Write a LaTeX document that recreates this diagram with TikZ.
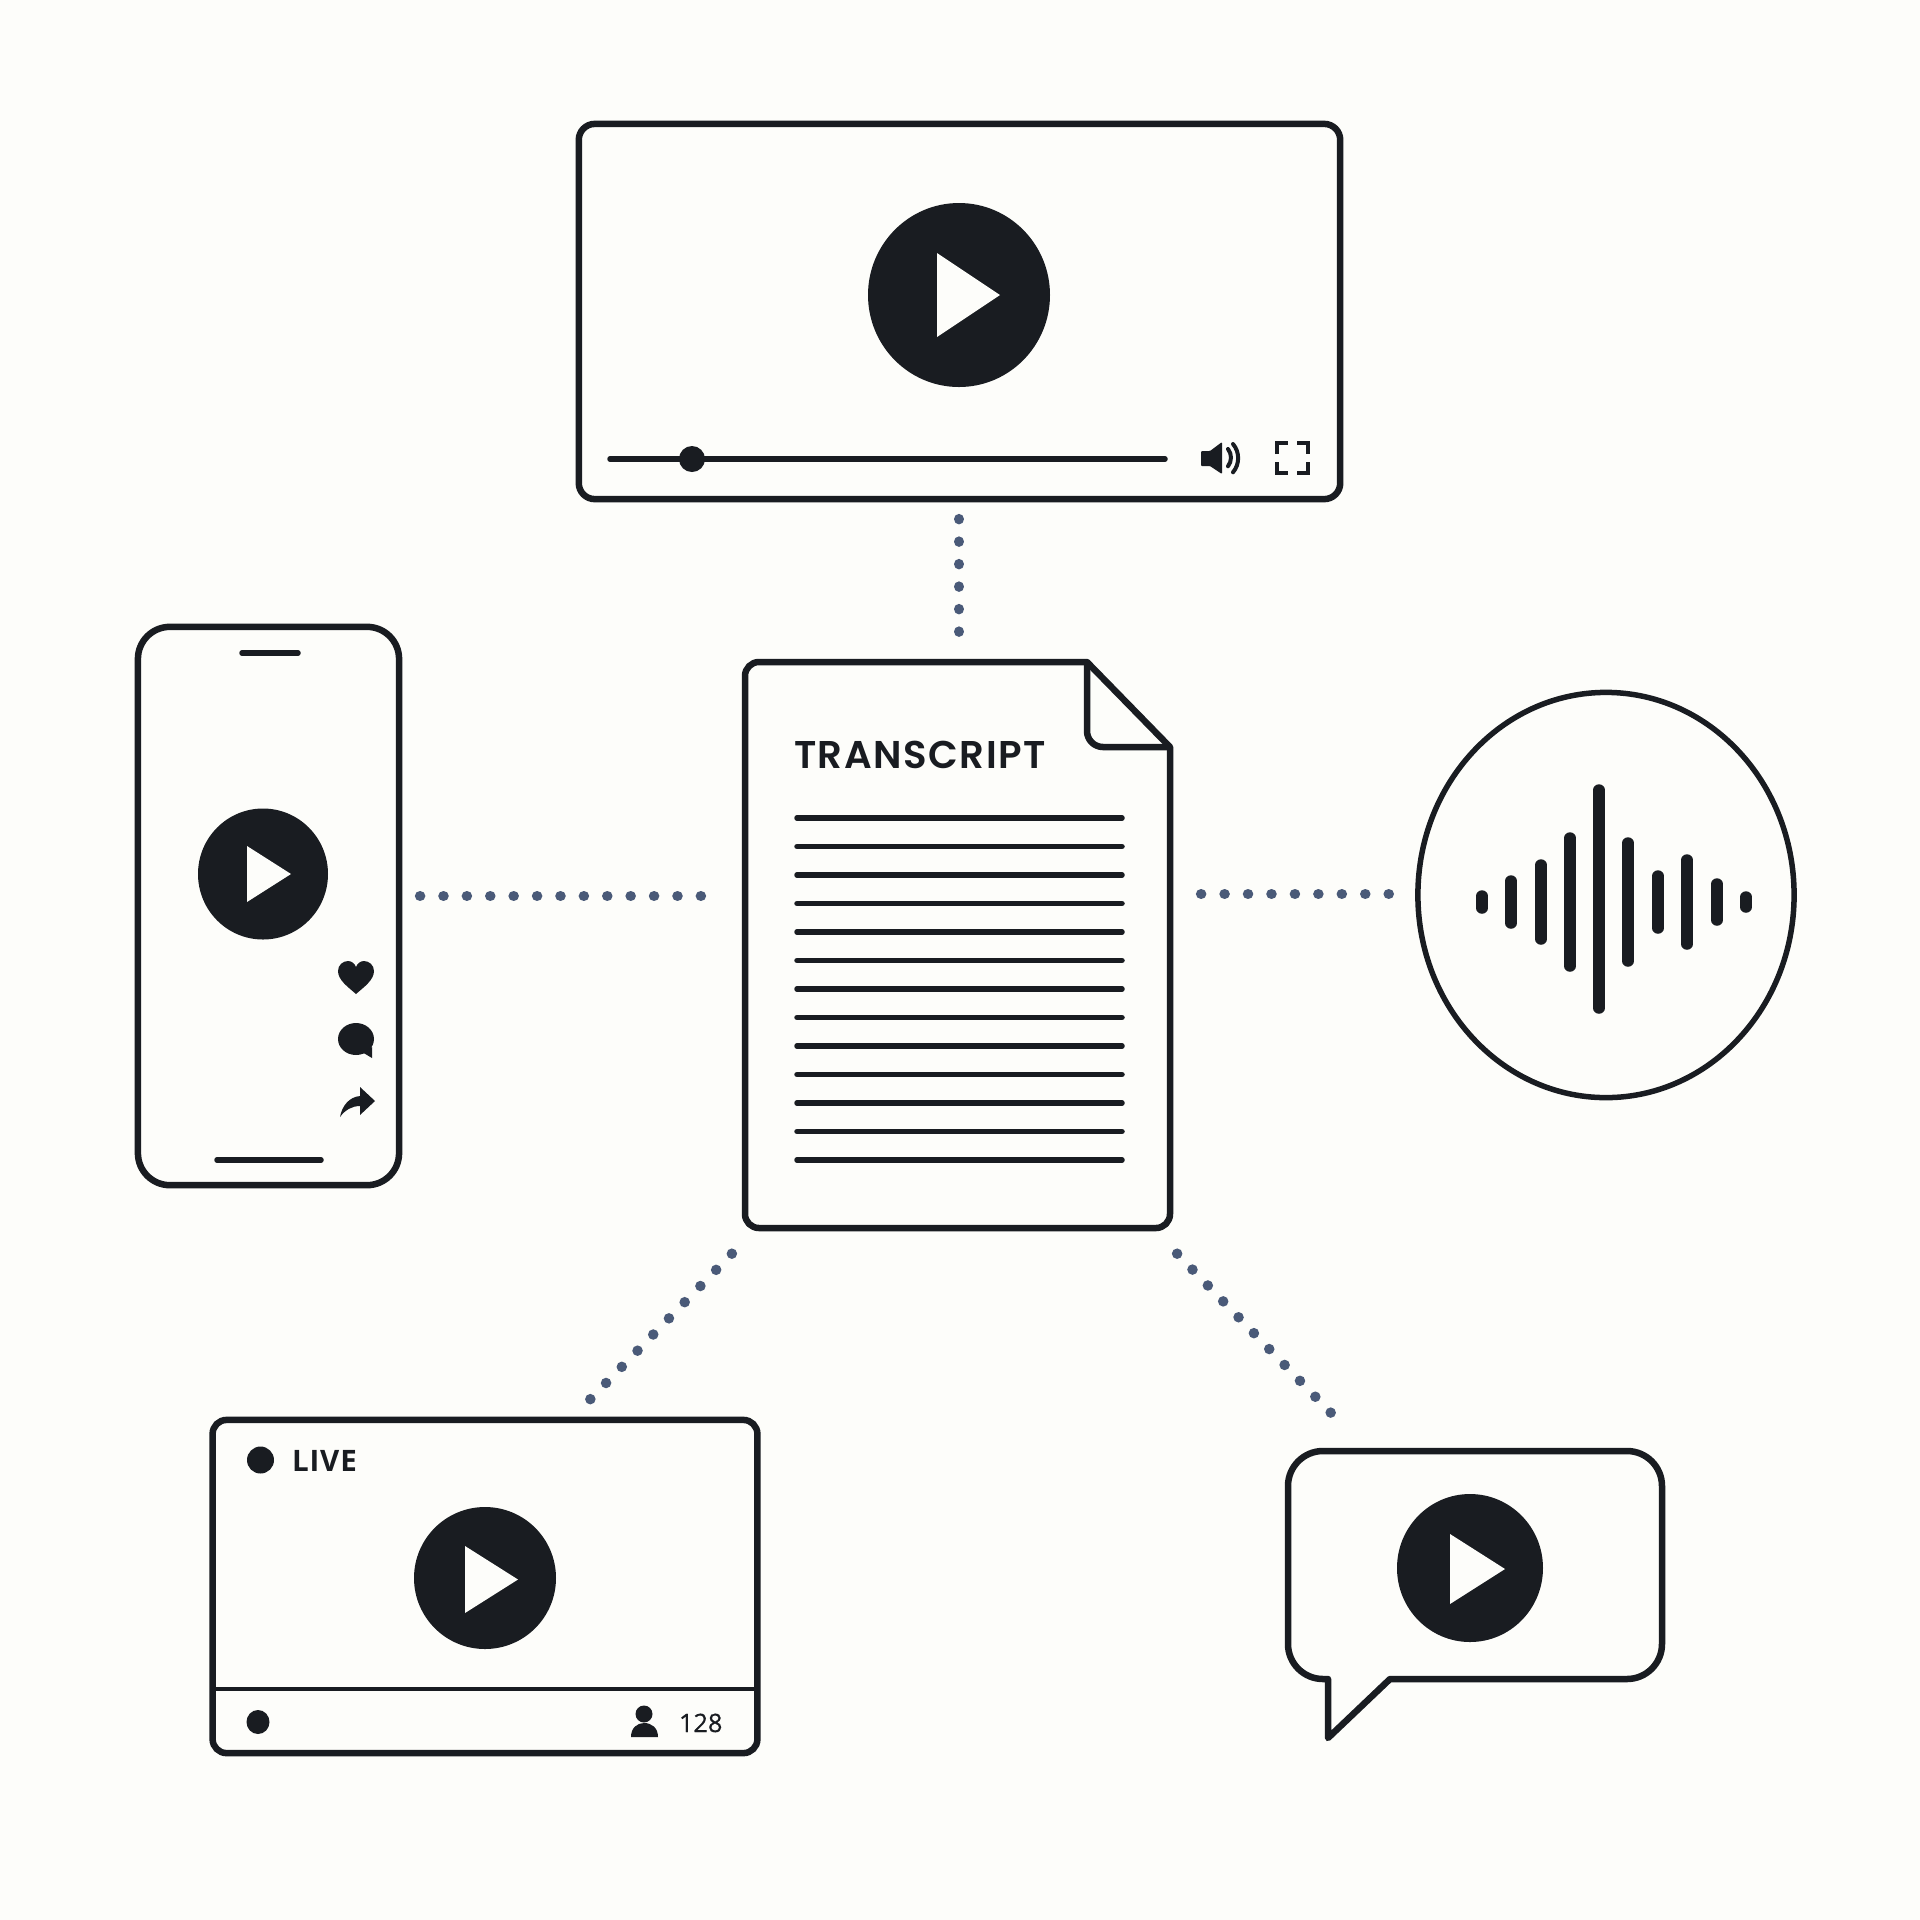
\documentclass[tikz,border=0pt]{standalone}
\usepackage{fontspec}
\usetikzlibrary{shapes.geometric,calc}
\newfontfamily\titlefont[LetterSpace=4,UprightFont=* SemiBold]{Poppins}
\newfontfamily\livefont[LetterSpace=3]{Open Sans}
\newfontfamily\countfont[FakeBold=0.5]{Open Sans}
\definecolor{ink}{HTML}{191C21}
\definecolor{paper}{HTML}{FDFDFA}
\definecolor{slate}{HTML}{4A5A78}
\newcommand{\playbtn}[8]{% cx cy rx ry triX triTop triTipX triBottom
  \fill[ink] (#1,#2) ellipse [x radius=#3, y radius=#4];
  \fill[paper] (#5,#6) -- (#7,{(#6+#8)/2}) -- (#5,#8) -- cycle;}
\tikzset{
  x=0.01cm, y=-0.01cm,
  shapeline/.style={draw=ink, line width=0.065cm, fill=none, inner sep=0pt, outer sep=0pt},
  rulethick/.style={draw=ink, line width=0.055cm, line cap=round},
  dotrow/.style={draw=slate, line width=0.105cm, line cap=round, dash pattern=on 0.01pt off #1},
  ghost/.style={inner sep=0pt, outer sep=0pt, rectangle},
  bar/.style={draw=ink, line width=0.115cm, line cap=round},
  label/.style={inner sep=0pt, outer sep=0pt, text=ink},
}
\begin{document}
\begin{tikzpicture}
\fill[paper] (0,0) rectangle (1920,1920);
\useasboundingbox (0,0) rectangle (1920,1920);

% --- player
\node[shapeline, rectangle, rounded corners=0.16cm, minimum width=7.61cm, minimum height=3.75cm] (player) at (959.5,311.5) {};
\playbtn{959}{295}{91}{92}{937}{253}{1000}{337}
\draw[rulethick] (610,459) -- (1165,459);
\fill[ink] (692,459) circle [radius=13];
\fill[ink, rounded corners=0.01cm] (1201,451) -- (1210,451) -- (1222,442) -- (1222,474) -- (1210,466) -- (1201,466) -- cycle;
\draw[ink, line width=0.04cm, line cap=round] (1228,449) arc [start angle=-38, end angle=38, radius=14];
\draw[ink, line width=0.04cm, line cap=round] (1233,444) arc [start angle=-40, end angle=40, radius=22];
\draw[ink, line width=0.04cm] (1277,454) -- (1277,443) -- (1288,443);
\draw[ink, line width=0.04cm] (1297,443) -- (1308,443) -- (1308,454);
\draw[ink, line width=0.04cm] (1277,462) -- (1277,473) -- (1288,473);
\draw[ink, line width=0.04cm] (1297,473) -- (1308,473) -- (1308,462);

% --- phone
\node[shapeline, rectangle, rounded corners=0.32cm, minimum width=2.61cm, minimum height=5.58cm] (phone) at (268.5,906) {};
\draw[rulethick] (242,653) -- (298,653);
\draw[rulethick] (217,1160) -- (321,1160);
\playbtn{263}{874}{65}{65.5}{247}{846}{291}{902}
\fill[ink] (356,994) .. controls (348,987) and (338,980) .. (338,971)
  .. controls (338,965) and (343,961) .. (348,961)
  .. controls (352,961) and (355,964) .. (356,967)
  .. controls (357,964) and (360,961) .. (364,961)
  .. controls (369,961) and (374,965) .. (374,971)
  .. controls (374,980) and (364,987) .. (356,994) -- cycle;
\fill[ink] (356,1039) ellipse [x radius=18, y radius=16];
\fill[ink] (362,1052) -- (372,1058) -- (372,1047) -- cycle;
\fill[ink] (375,1101) -- (360,1087) -- (360,1096)
  .. controls (349,1097) and (342,1106) .. (340,1117)
  .. controls (345,1110) and (352,1106) .. (360,1106)
  -- (360,1115) -- cycle;

% --- document
\node[ghost, minimum width=4.25cm, minimum height=5.66cm] (doc) at (957.5,944.5) {};
\draw[ink, line width=0.065cm, line join=round]
  (759,662) -- (1087,662) -- (1170,747) -- (1170,1214)
  arc [start angle=0, end angle=90, radius=14] -- (759,1228)
  arc [start angle=90, end angle=180, radius=14] -- (745,676)
  arc [start angle=180, end angle=270, radius=14] -- cycle;
\draw[ink, line width=0.065cm, line join=round]
  (1087,662) -- (1087,731) arc [start angle=180, end angle=90, radius=16] -- (1170,747);
\node[label, anchor=base west, font=\titlefont\fontsize{11}{13}\selectfont] (title) at (794,768) {TRANSCRIPT};
\foreach \k in {0,...,12} \draw[rulethick] (797,818+\k*28.5) -- (1122,818+\k*28.5);

% --- audio
\node[shapeline, ellipse, line width=0.055cm, minimum width=3.76cm, minimum height=4.05cm] (audio) at (1606,895) {};
\foreach \bx/\hl in {1482/12,1511/27,1541/43,1570/70,1628/65,1658/32,1687/48,1717/24,1746/11}
  \draw[bar] (\bx,902-\hl+6) -- (\bx,902+\hl-6);
\draw[bar] (1599,790) -- (1599,1008);

% --- live
\node[shapeline, rectangle, rounded corners=0.14cm, minimum width=5.445cm, minimum height=3.33cm] (live) at (485,1586.5) {};
\draw[ink, line width=0.045cm] (213,1689) -- (757,1689);
\fill[ink] (260.5,1460) circle [radius=13.5];
\node[label, anchor=base west, font=\livefont\bfseries\fontsize{8.4}{10}\selectfont] (livetext) at (292,1471) {LIVE};
\playbtn{485}{1578}{71}{71}{465}{1546}{518}{1613}
\fill[ink] (258,1722) ellipse [x radius=11.5, y radius=12];
\fill[ink] (644,1714) circle [radius=8.5];
\fill[ink] (631,1737) .. controls (631,1728) and (637,1723) .. (644,1723)
  .. controls (652,1723) and (658,1728) .. (658,1737) -- cycle;
\node[label, anchor=base west, font=\countfont\fontsize{7.2}{9}\selectfont] (count) at (679,1732) {128};

% --- bubble
\node[ghost, minimum width=3.74cm, minimum height=2.28cm] (bubble) at (1475,1565) {};
\draw[ink, line width=0.065cm, line join=round]
  (1323,1451) -- (1627,1451) arc [start angle=-90, end angle=0, radius=35]
  -- (1662,1644) arc [start angle=0, end angle=90, radius=35]
  -- (1390,1679) -- (1328,1738) -- (1328,1679) -- (1323,1679)
  arc [start angle=90, end angle=180, radius=35]
  -- (1288,1486) arc [start angle=180, end angle=270, radius=35] -- cycle;
\playbtn{1470}{1568}{73}{74}{1450}{1534}{1505}{1604}

% --- connectors
\draw[dotrow=0.2245cm] ([shift={(-0.5,20)}]player.south) -- ([shift={(1.5,-29.5)}]doc.north);
\draw[dotrow=0.2335cm] ([shift={(21,-10)}]phone.east) -- ([shift={(-43,-48.5)}]doc.west);
\draw[dotrow=0.2340cm] ([shift={(31,-50.5)}]doc.east) -- ([shift={(-27,-1)}]audio.west);
\draw[dotrow=0.2250cm] ([shift={(-13,26)}]doc.south west) -- ([shift={(105,-20.4)}]live.north);
\draw[dotrow=0.2205cm] ([shift={(7,26)}]doc.south east) -- ([shift={(-144,-38)}]bubble.north);
\end{tikzpicture}
\end{document}
